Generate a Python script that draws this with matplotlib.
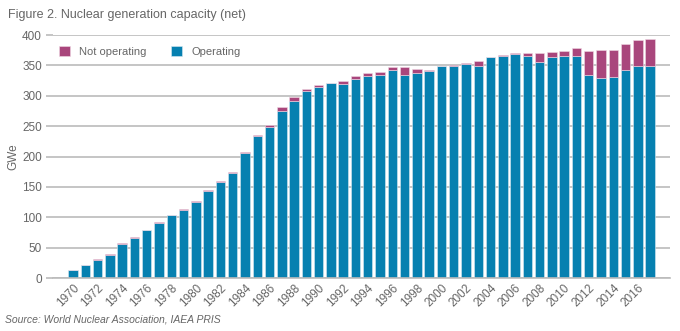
import numpy as np
import matplotlib.pyplot as plt

plt.rcParams['font.family'] = ['Liberation Sans', 'DejaVu Sans']

years = list(range(1970, 2018))
operating = [13, 22, 30.5, 38.7, 56.2, 66.1, 78.7, 90.3, 103.5, 112.8,
             124.8, 144, 158.8, 173.1, 205.5, 233.5, 248.3, 274.6, 292.2, 308.6,
             315.2, 321.8, 319.6, 327.3, 332.8, 333.9, 342, 333.9, 337.2, 340.4,
             348.7, 348.7, 353.1, 349.8, 364.6, 366.3, 368.4, 366.3, 356.4, 363.1,
             365.2, 366.3, 333.9, 329.5, 330.6, 342.6, 349.8, 349.8]
total = [13.4, 22.2, 32, 40.3, 57.9, 67.2, 78.7, 91.9, 104.5, 114.4,
         126.5, 145.7, 160.5, 174.2, 207.7, 235.1, 252.7, 281.2, 298.8, 311.9,
         318.5, 321.8, 324.6, 332.3, 337.7, 338.8, 347, 347, 343.7, 342.1,
         348.7, 350.3, 354.7, 358, 364.6, 367.9, 371.2, 371.2, 370.7, 372.3,
         374, 378.9, 374, 375.6, 375.6, 384.9, 391.5, 393.1]
not_operating = [max(t - o, 0) for t, o in zip(total, operating)]

blue = '#0680b0'
pink = '#a9467c'
grey = '#666666'

fig = plt.figure(figsize=(6.8, 3.31), dpi=100)
ax = fig.add_axes([0.078, 0.160, 0.907, 0.734])

x = np.array(years)
ax.bar(x, operating, width=0.77, color=blue, edgecolor='#d8eaf2', linewidth=0.4,
       label='Operating', zorder=2)
ax.bar(x, not_operating, bottom=operating, width=0.77, color=pink,
       edgecolor='#f0d8e4', linewidth=0.4, label='Not operating', zorder=2)

ax.set_ylim(0, 400)
ax.set_xlim(1968.37, 2018.6)
ax.set_yticks(range(0, 401, 50))
ax.yaxis.grid(True, color='#bbbbbb', linewidth=1.2, zorder=0)
ax.set_axisbelow(True)
for s in ['top', 'right', 'left']:
    ax.spines[s].set_visible(False)
ax.spines['bottom'].set_color('#bbbbbb')
ax.spines['bottom'].set_linewidth(1.2)

ax.tick_params(axis='y', length=5, color='#bbbbbb', width=1.2, labelsize=8.5,
               labelcolor=grey, pad=3)
ax.tick_params(axis='x', length=0, labelsize=8.5, labelcolor=grey, pad=3)
ax.set_xticks(x[::2])
ax.set_xticklabels([str(y) for y in years[::2]], rotation=45, ha='right',
                   rotation_mode='anchor')
ax.set_ylabel('GWe', color=grey, fontsize=8.5, labelpad=2)

handles, labels = ax.get_legend_handles_labels()
ax.legend(handles[::-1], labels[::-1], loc='upper left', ncol=2, frameon=False,
          fontsize=8, labelcolor=grey, handlelength=1.0, handleheight=1.0,
          columnspacing=2.2, handletextpad=0.8, bbox_to_anchor=(-0.006, 0.995))

fig.text(0.012, 0.955, 'Figure 2. Nuclear generation capacity (net)', fontsize=9,
         color=grey, va='center')
fig.text(0.008, 0.035, 'Source: World Nuclear Association, IAEA PRIS', fontsize=7.5,
         color=grey, style='italic', va='center')

fig.savefig('out.png', dpi=100)
